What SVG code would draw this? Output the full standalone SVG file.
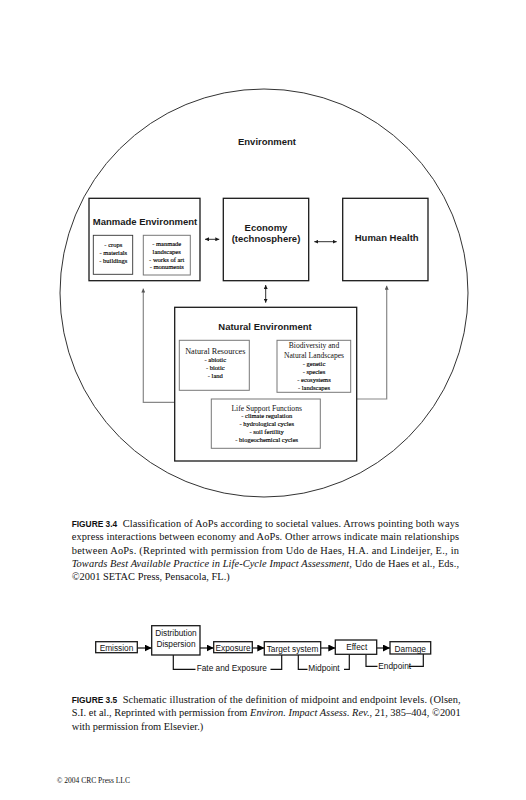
<svg xmlns="http://www.w3.org/2000/svg" width="526" height="800" viewBox="0 0 526 800">
<defs>
<style>
.bx{fill:#fff;stroke:#1a1a1a;stroke-width:1.3}
.gbx{fill:#fff;stroke:#777;stroke-width:1}
.sb{fill:#fff;stroke:#333;stroke-width:0.9}
.h{font-family:"Liberation Sans",Arial,sans-serif;font-weight:bold;font-size:9.5px;fill:#1a1a1a;text-anchor:middle}
.s{font-family:"Liberation Serif","Times New Roman",serif;font-size:6.5px;fill:#000;stroke:#000;stroke-width:0.15;text-anchor:middle}
.s2{font-family:"Liberation Serif","Times New Roman",serif;font-size:7.6px;fill:#111;text-anchor:middle}
.f{font-family:"Liberation Sans",Arial,sans-serif;font-size:8.3px;fill:#111;text-anchor:middle}
.fl{font-family:"Liberation Sans",Arial,sans-serif;font-size:8.3px;fill:#111}
.c{font-family:"Liberation Serif","Times New Roman",serif;font-size:10.4px;fill:#111}
.it{font-style:italic}
.cb{font-family:"Liberation Sans",Arial,sans-serif;font-size:9.8px;font-weight:bold;fill:#111}
.ln{fill:none;stroke:#1a1a1a;stroke-width:0.9}
.gl{fill:none;stroke:#888;stroke-width:1.2}
.bl{fill:none;stroke:#111;stroke-width:1.2}
</style>
<marker id="ah" viewBox="0 0 10 10" refX="10" refY="5" markerWidth="4" markerHeight="4" markerUnits="userSpaceOnUse" orient="auto-start-reverse">
<path d="M0,0 L10,5 L0,10 z" fill="#1a1a1a"/>
</marker>
<marker id="gh" viewBox="0 0 10 10" refX="10" refY="5" markerWidth="4" markerHeight="4" markerUnits="userSpaceOnUse" orient="auto">
<path d="M0,0 L10,5 L0,10 z" fill="#555"/>
</marker>
<marker id="bh" viewBox="0 0 10 10" refX="10" refY="5" markerWidth="7" markerHeight="7" markerUnits="userSpaceOnUse" orient="auto">
<path d="M0,0 L10,5 L0,10 z" fill="#000"/>
</marker>
</defs>
<rect width="526" height="800" fill="#fff"/>

<g id="environment">
<circle cx="264" cy="293" r="204" fill="none" stroke="#333" stroke-width="1"/>
<text class="h" x="267" y="144.5">Environment</text>
</g>

<g id="connectors">
<line class="ln" x1="205" y1="239.3" x2="219.3" y2="239.3" marker-start="url(#ah)" marker-end="url(#ah)"/>
<line class="ln" x1="314.3" y1="241.7" x2="336.7" y2="241.7" marker-start="url(#ah)" marker-end="url(#ah)"/>
<line class="ln" x1="265.7" y1="285" x2="265.7" y2="302.7" marker-start="url(#ah)" marker-end="url(#ah)"/>
<polyline class="gl" points="174.7,402.3 143.3,402.3 143.3,288.5" marker-end="url(#gh)"/>
<polyline class="gl" points="356.7,399 386.7,399 386.7,285.7" marker-end="url(#gh)"/>
</g>

<g id="manmade">
<rect class="bx" x="89" y="198.3" width="111" height="82.4"/>
<text class="h" x="145" y="225">Manmade Environment</text>
<rect class="sb" x="93.3" y="235.3" width="39.4" height="39"/>
<text class="s" x="113.3" y="247.3">- crops</text>
<text class="s" x="113.3" y="255">- materials</text>
<text class="s" x="113.3" y="263.3">- buildings</text>
<rect class="gbx" x="143.3" y="235.3" width="47" height="39.7"/>
<text class="s" x="166.7" y="246">- manmade</text>
<text class="s" x="166.7" y="254">landscapes</text>
<text class="s" x="166.7" y="262">- works of art</text>
<text class="s" x="166.7" y="269.3">- monuments</text>
</g>

<g id="economy">
<rect class="bx" x="223.3" y="198.3" width="85.4" height="82.4"/>
<text class="h" x="266" y="231">Economy</text>
<text class="h" x="266" y="241.8">(technosphere)</text>
</g>

<g id="human-health">
<rect class="bx" x="342.7" y="198.3" width="85.3" height="82.4"/>
<text class="h" x="386.7" y="241">Human Health</text>
</g>

<g id="natural">
<rect class="bx" x="174.7" y="307.3" width="182" height="153.7"/>
<text class="h" x="265" y="329.5">Natural Environment</text>
<rect class="gbx" x="179.3" y="340.3" width="70" height="50"/>
<text class="s2" x="215.3" y="353.8" style="font-size:8.2px">Natural Resources</text>
<text class="s" x="215.3" y="362.3">- abiotic</text>
<text class="s" x="215.3" y="370">- biotic</text>
<text class="s" x="215.3" y="378">- land</text>
<rect class="gbx" x="277" y="340.3" width="73.7" height="52"/>
<text class="s2" x="314" y="348.3">Biodiversity and</text>
<text class="s2" x="314" y="357.9">Natural Landscapes</text>
<text class="s" x="314" y="366.3">- genetic</text>
<text class="s" x="314" y="374.3">- species</text>
<text class="s" x="314" y="382.3">- ecosystems</text>
<text class="s" x="314" y="390.3">- landscapes</text>
<rect class="gbx" x="211.3" y="399" width="109" height="49.3"/>
<text class="s2" x="266.7" y="411">Life Support Functions</text>
<text class="s" x="266.7" y="418.3">- climate regulation</text>
<text class="s" x="266.7" y="426.3">- hydrological cycles</text>
<text class="s" x="266.7" y="434">- soil fertility</text>
<text class="s" x="266.7" y="442">- biogeochemical cycles</text>
</g>

<g id="caption-3-4">
<text class="cb" x="71.7" y="527" textLength="45.5" lengthAdjust="spacingAndGlyphs">FIGURE 3.4</text>
<text class="c" x="122.7" y="527" textLength="336.3" lengthAdjust="spacing">Classification of AoPs according to societal values. Arrows pointing both ways</text>
<text class="c" x="71.7" y="540.3" textLength="387.3" lengthAdjust="spacing">express interactions between economy and AoPs. Other arrows indicate main relationships</text>
<text class="c" x="71.7" y="553.6" textLength="387.3" lengthAdjust="spacing">between AoPs. (Reprinted with permission from Udo de Haes, H.A. and Lindeijer, E., in</text>
<text class="c" x="71.7" y="567" textLength="387.3" lengthAdjust="spacing"><tspan class="it">Towards Best Available Practice in Life-Cycle Impact Assessment</tspan>, Udo de Haes et al., Eds.,</text>
<text class="c" x="71.7" y="580.3">©2001 SETAC Press, Pensacola, FL.)</text>
</g>

<g id="fig35-connectors">
<line class="bl" x1="137.3" y1="648" x2="151.7" y2="648" marker-end="url(#bh)"/>
<line class="bl" x1="200" y1="648" x2="213.7" y2="648" marker-end="url(#bh)"/>
<line class="bl" x1="252.3" y1="648" x2="264.3" y2="648" marker-end="url(#bh)"/>
<line class="bl" x1="320.7" y1="648" x2="335.3" y2="648" marker-end="url(#bh)"/>
<line class="bl" x1="376.7" y1="648" x2="390" y2="648" marker-end="url(#bh)"/>
<polyline class="bl" points="173.3,655 173.3,669.3 195.5,669.3"/>
<polyline class="bl" points="270.5,669.3 281.7,669.3 281.7,655"/>
<polyline class="bl" points="298.3,655 298.3,669.3 307.5,669.3"/>
<polyline class="bl" points="344,669.3 349.3,669.3 349.3,654.3"/>
<polyline class="bl" points="366,654.3 366,666.3 377.5,666.3"/>
<polyline class="bl" points="408.8,666.3 423.3,666.3 423.3,654"/>
<text class="fl" x="196.7" y="671.3">Fate and Exposure</text>
<text class="fl" x="308.3" y="671.3">Midpoint</text>
<text class="fl" x="378.3" y="668.8">Endpoint</text>
</g>

<g id="emission">
<rect class="bx" x="95.7" y="641.7" width="41.6" height="11"/>
<text class="f" x="116.5" y="650.8">Emission</text>
</g>
<g id="distribution">
<rect class="bx" x="151.7" y="625.7" width="48.3" height="29.3"/>
<text class="f" x="176" y="635.5">Distribution</text>
<text class="f" x="176" y="647.3">Dispersion</text>
</g>
<g id="exposure">
<rect class="bx" x="213.7" y="641.7" width="38.6" height="11"/>
<text class="f" x="233" y="650.8">Exposure</text>
</g>
<g id="target-system">
<rect class="bx" x="264.3" y="641.7" width="56.4" height="13.3"/>
<text class="f" x="292.5" y="651.5">Target system</text>
</g>
<g id="effect">
<rect class="bx" x="335.3" y="640" width="41.4" height="14.3"/>
<text class="f" x="356.7" y="650.3">Effect</text>
</g>
<g id="damage">
<rect class="bx" x="390" y="641.7" width="40.7" height="12.3"/>
<text class="f" x="410.3" y="651.5">Damage</text>
</g>

<g id="caption-3-5">
<text class="cb" x="71.7" y="703" textLength="45.5" lengthAdjust="spacingAndGlyphs">FIGURE 3.5</text>
<text class="c" x="122.7" y="703" textLength="338" lengthAdjust="spacing">Schematic illustration of the definition of midpoint and endpoint levels. (Olsen,</text>
<text class="c" x="71.7" y="716.3" textLength="389" lengthAdjust="spacing">S.I. et al., Reprinted with permission from <tspan class="it">Environ. Impact Assess. Rev.</tspan>, 21, 385–404, ©2001</text>
<text class="c" x="71.7" y="729.7">with permission from Elsevier.)</text>
</g>

<g id="footer">
<text class="c" x="56.7" y="782.5" style="font-size:7.5px">© 2004 CRC Press LLC</text>
</g>
</svg>
